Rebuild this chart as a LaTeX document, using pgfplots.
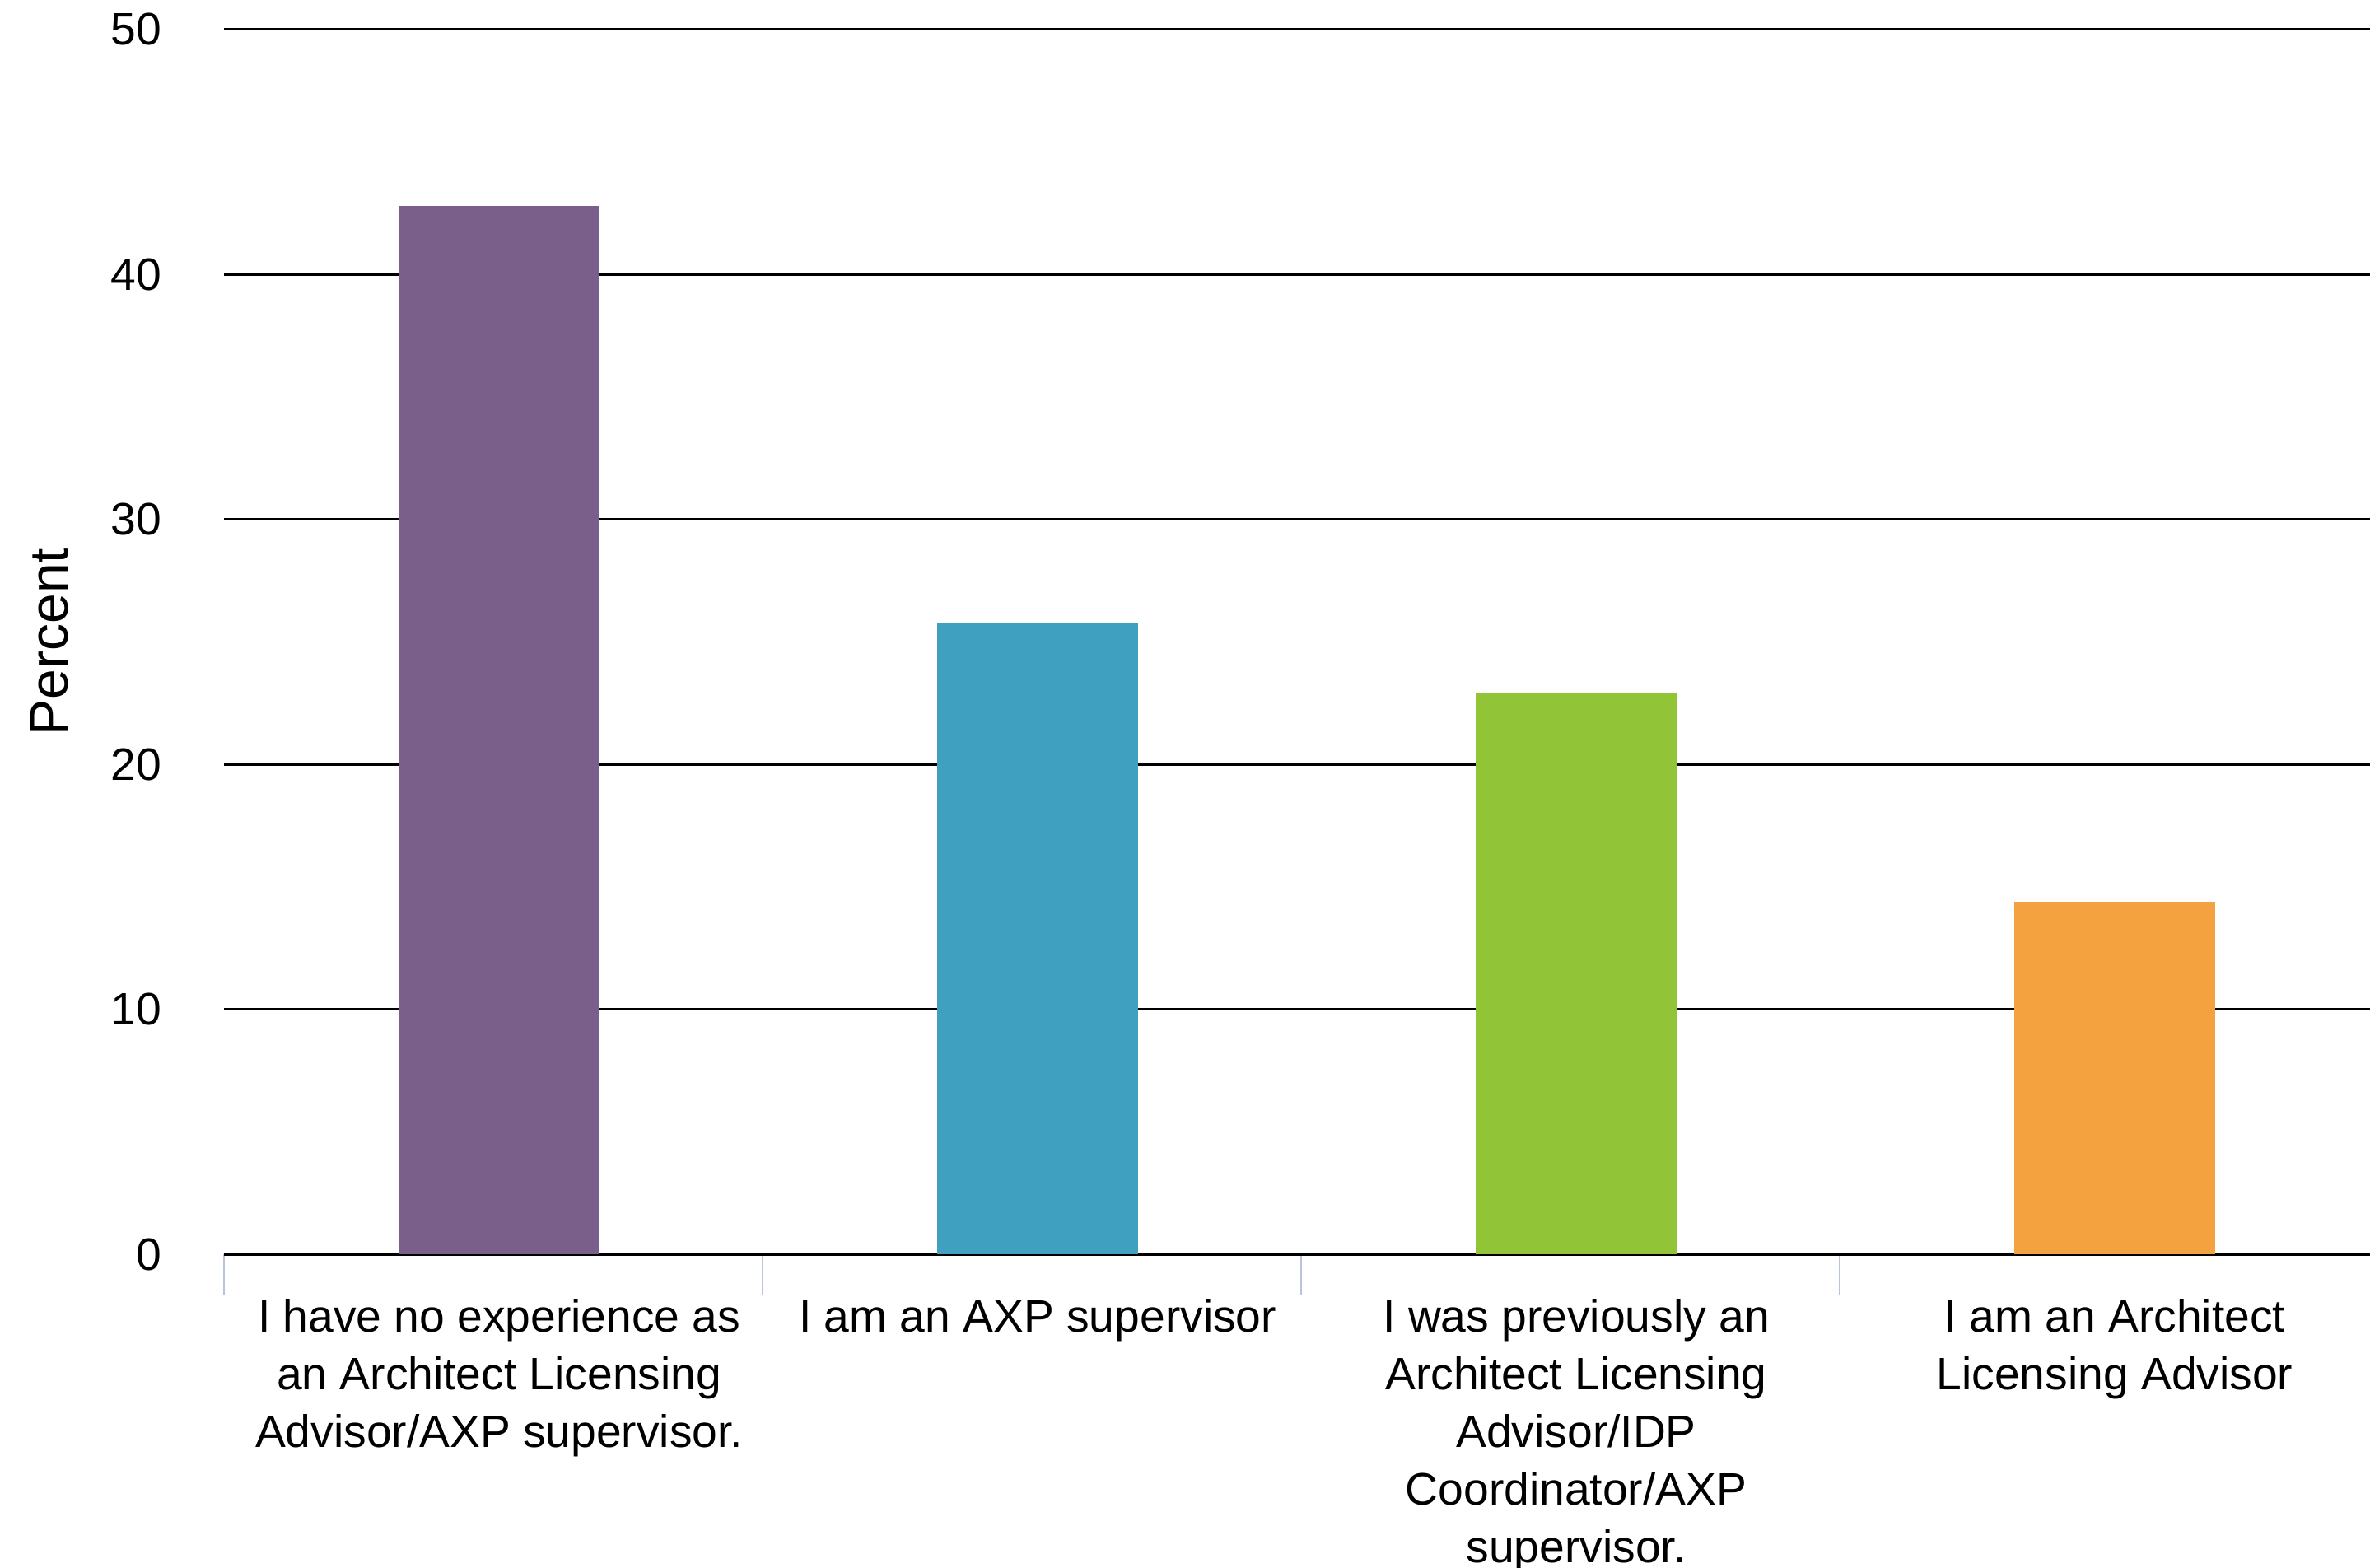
\documentclass[border=0pt]{standalone}
\usepackage{pgfplots}
\pgfplotsset{compat=1.18}
\usepackage{fontspec}
\setmainfont{Liberation Sans}

\definecolor{barpurple}{HTML}{7B5F8B}
\definecolor{barblue}{HTML}{40A0C0}
\definecolor{bargreen}{HTML}{91C537}
\definecolor{barorange}{HTML}{F4A23F}
\definecolor{sepline}{HTML}{B8C4DC}

\begin{document}
\begin{tikzpicture}
\path[use as bounding box] (-68pt,-95.25pt) rectangle (651.5pt,380.75pt);
\begin{axis}[
  scale only axis,
  width=651.5pt, height=371.75pt,
  ybar, bar width=61pt, bar shift=1.8pt,
  xmin=-0.5, xmax=3.485,
  ymin=0, ymax=50,
  ytick={0,10,20,30,40,50},
  /pgf/number format/assume math mode=true,
  axis x line*=bottom, axis y line*=left,
  x axis line style={black, line width=0.75pt, -},
  y axis line style={draw=none},
  ymajorgrids,
  major grid style={black, line width=0.75pt},
  ytick style={draw=none},
  xtick={0,1,2,3},
  xticklabels={
    {I have no experience as\\an Architect Licensing\\Advisor/AXP supervisor.},
    {I am an AXP supervisor},
    {I was previously an\\Architect Licensing\\Advisor/IDP\\Coordinator/AXP\\supervisor.},
    {I am an Architect\\Licensing Advisor}},
  minor xtick={-0.5,0.5,1.5,2.5},
  xtick align=outside,
  major tick length=0pt,
  minor tick length=12.5pt,
  major x tick style={draw=none},
  minor x tick style={sepline, line width=0.5pt},
  xticklabel style={align=center, anchor=north, yshift=-10pt, xshift=1.8pt,
    font=\fontsize{13.8}{17.5}\selectfont},
  yticklabel style={anchor=east, xshift=-15.5pt,
    font=\fontsize{13.8}{16}\selectfont},
  ylabel={Percent},
  every axis y label/.style={at={(axis description cs:0,0.5)}, xshift=-53pt,
    rotate=90, anchor=center, font=\fontsize{16.5}{20}\selectfont},
]
\addplot[fill=barpurple, draw=none] coordinates {(0,42.8)};
\addplot[fill=barblue, draw=none] coordinates {(1,25.8)};
\addplot[fill=bargreen, draw=none] coordinates {(2,22.9)};
\addplot[fill=barorange, draw=none] coordinates {(3,14.4)};
\end{axis}
\end{tikzpicture}
\end{document}
